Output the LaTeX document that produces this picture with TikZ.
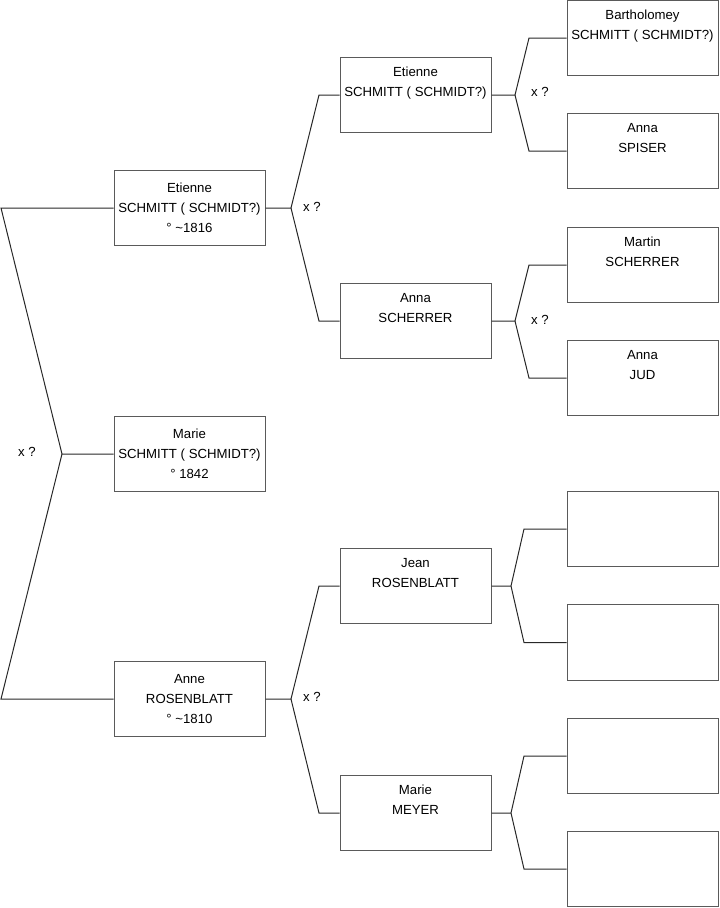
\documentclass[tikz,border=0pt]{standalone}
\usepackage{fontspec}
\setmainfont{Liberation Sans}
\begin{document}
\begin{tikzpicture}[x=0.75pt,y=-0.75pt,
  box/.style={draw={rgb,255:red,90;green,90;blue,90}, line width=0.75pt, minimum width=113.25pt, minimum height=56.5pt, inner sep=0pt, align=center, font=\fontsize{9.9}{15}\selectfont},
  conn/.style={draw={rgb,255:red,40;green,40;blue,40}, line width=0.75pt},
  lbl/.style={font=\fontsize{9.9}{12}\selectfont, inner sep=0pt}]
\useasboundingbox (0,0) rectangle (719,908);
% generation 0
\node[box] (m) at (189.5,454) {Marie\\SCHMITT ( SCHMIDT?)\\° 1842};
% generation 1
\node[box] (e1) at (189.5,208) {Etienne\\SCHMITT ( SCHMIDT?)\\° \textasciitilde1816};
\node[box] (a1) at (189.5,699) {Anne\\ROSENBLATT\\° \textasciitilde1810};
% generation 2
\node[box] (e2) at (415.5,95) {Etienne\\SCHMITT ( SCHMIDT?)\\\strut};
\node[box] (s2) at (415.5,321) {Anna\\SCHERRER\\\strut};
\node[box] (j2) at (415.5,586) {Jean\\ROSENBLATT\\\strut};
\node[box] (mm2) at (415.5,813) {Marie\\MEYER\\\strut};
% generation 3
\node[box] (b3) at (642.5,38) {Bartholomey\\SCHMITT ( SCHMIDT?)\\\strut};
\node[box] (sp3) at (642.5,151) {Anna\\SPISER\\\strut};
\node[box] (ms3) at (642.5,265) {Martin\\SCHERRER\\\strut};
\node[box] (jd3) at (642.5,378) {Anna\\JUD\\\strut};
\node[box] (x1) at (642.5,529) {};
\node[box] (x2) at (642.5,642.5) {};
\node[box] (x3) at (642.5,756) {};
\node[box] (x4) at (642.5,869) {};
% forks
\coordinate (f0) at (62,454);
\coordinate (f0a) at (1,208);
\coordinate (f0b) at (1,699);
\draw[conn] (m.west) -- (f0) -- (f0a) -- (e1.west);
\draw[conn] (f0) -- (f0b) -- (a1.west);
\node[lbl] (l0) at (27,452) {x ?};

\coordinate (f1) at (291,208);
\coordinate (f1a) at (319,95);
\coordinate (f1b) at (319,321);
\draw[conn] (e1.east) -- (f1) -- (f1a) -- (e2.west);
\draw[conn] (f1) -- (f1b) -- (s2.west);
\node[lbl] (l1) at (312,207) {x ?};

\coordinate (f2) at (291,699);
\coordinate (f2a) at (319,586);
\coordinate (f2b) at (319,813);
\draw[conn] (a1.east) -- (f2) -- (f2a) -- (j2.west);
\draw[conn] (f2) -- (f2b) -- (mm2.west);
\node[lbl] (l2) at (312,697) {x ?};

\coordinate (f3) at (515,95);
\coordinate (f3a) at (529,38);
\coordinate (f3b) at (529,151);
\draw[conn] (e2.east) -- (f3) -- (f3a) -- (b3.west);
\draw[conn] (f3) -- (f3b) -- (sp3.west);
\node[lbl] (l3) at (540,92) {x ?};

\coordinate (f4) at (515,321);
\coordinate (f4a) at (529,265);
\coordinate (f4b) at (529,378);
\draw[conn] (s2.east) -- (f4) -- (f4a) -- (ms3.west);
\draw[conn] (f4) -- (f4b) -- (jd3.west);
\node[lbl] (l4) at (540,320) {x ?};

\coordinate (f5) at (511,586);
\coordinate (f5a) at (524,529);
\coordinate (f5b) at (524,642.5);
\draw[conn] (j2.east) -- (f5) -- (f5a) -- (x1.west);
\draw[conn] (f5) -- (f5b) -- (x2.west);

\coordinate (f6) at (511,813);
\coordinate (f6a) at (524,756);
\coordinate (f6b) at (524,869);
\draw[conn] (mm2.east) -- (f6) -- (f6a) -- (x3.west);
\draw[conn] (f6) -- (f6b) -- (x4.west);
\end{tikzpicture}
\end{document}
